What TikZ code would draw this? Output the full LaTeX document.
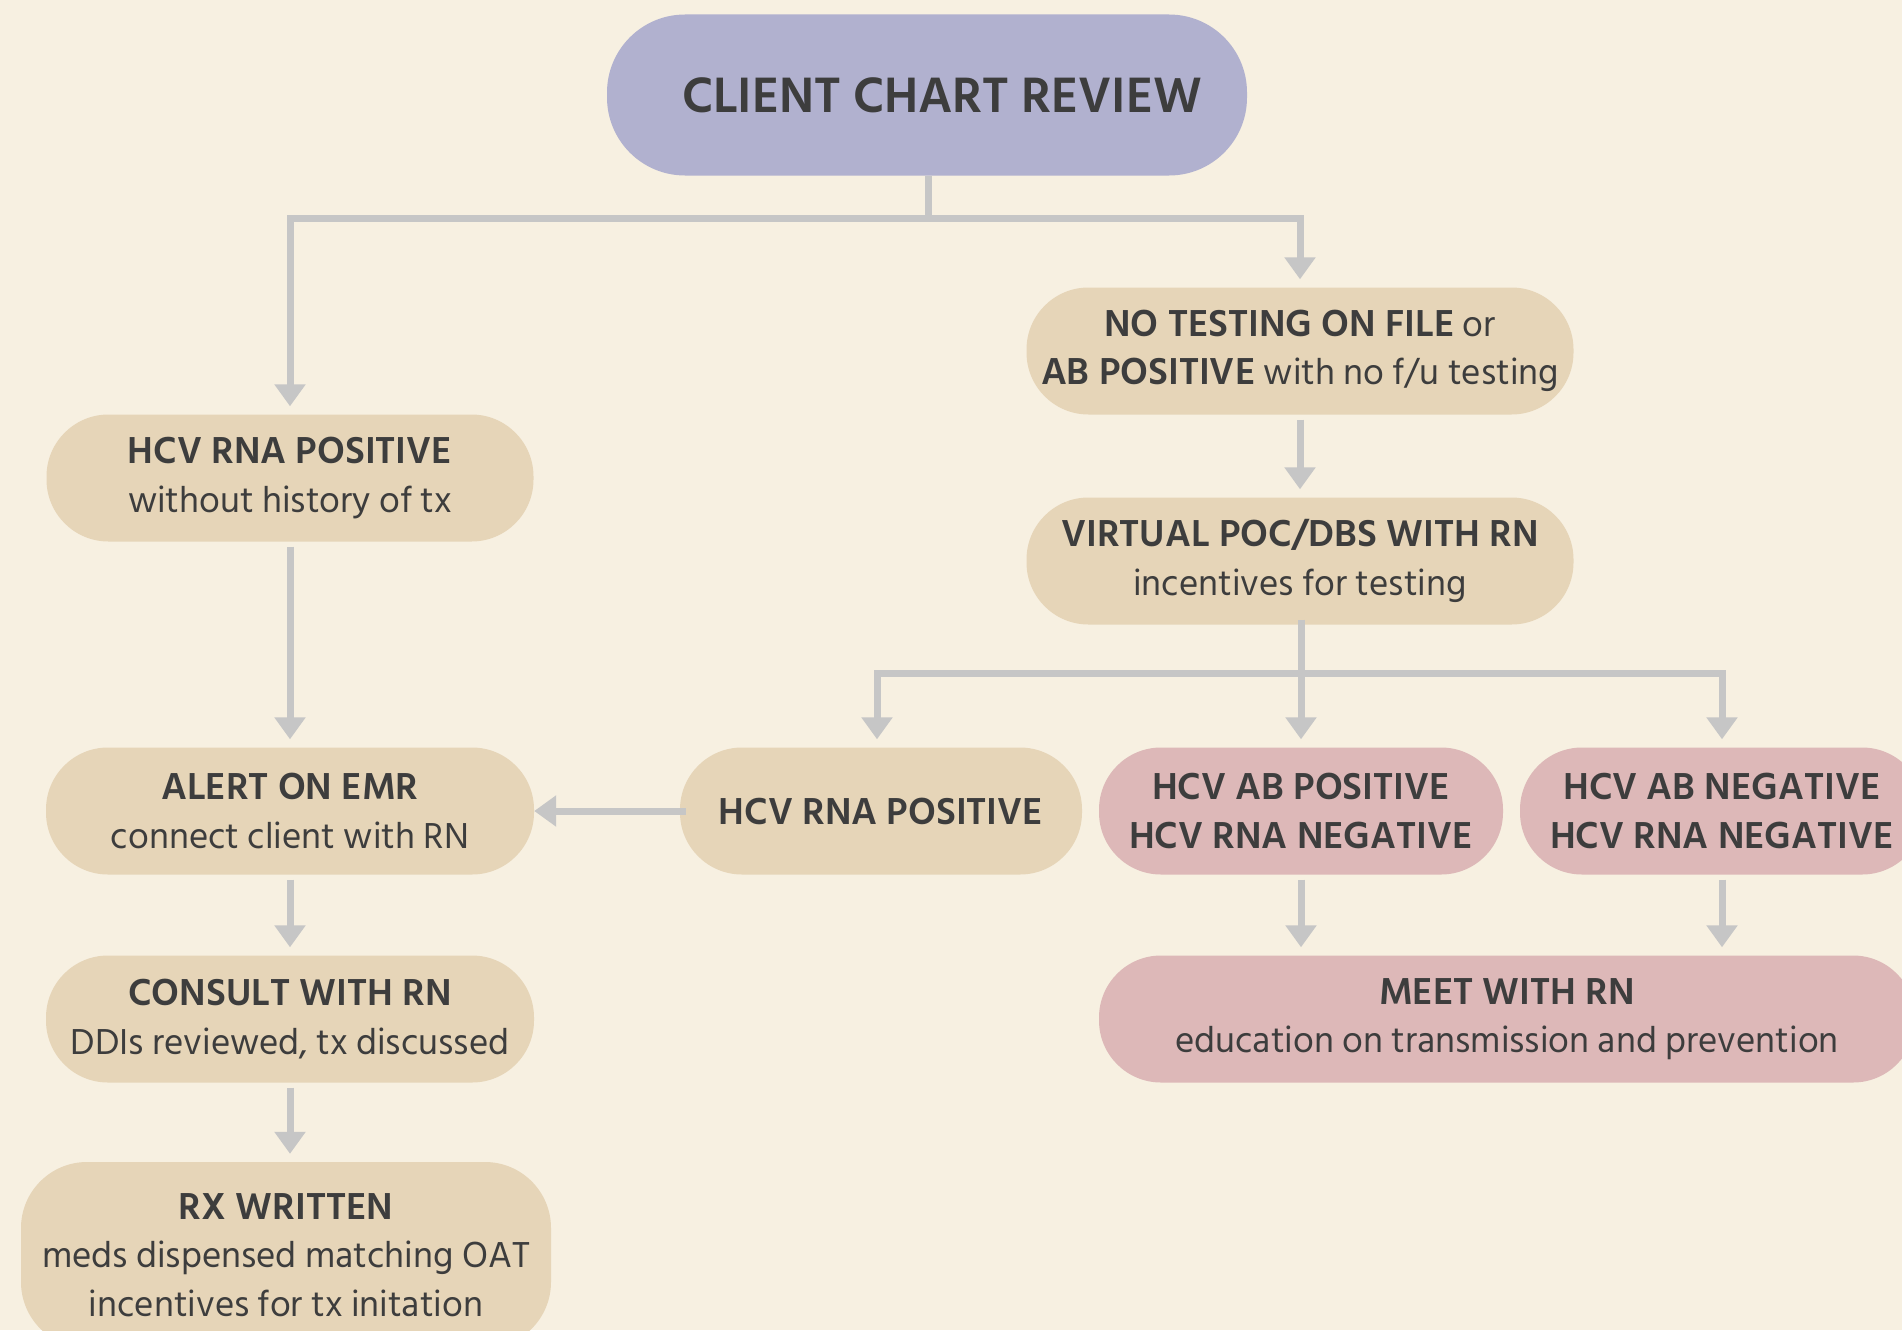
\documentclass[tikz,border=0pt]{standalone}
\usepackage{fontspec}
\setmainfont{Hind Siliguri}
\usetikzlibrary{arrows.meta}
\definecolor{bgc}{HTML}{F7F0E1}
\definecolor{lav}{HTML}{B1B1CF}
\definecolor{beige}{HTML}{E6D5B8}
\definecolor{pinkc}{HTML}{DDB8B8}
\definecolor{arrc}{HTML}{C6C6C6}
\definecolor{txt}{HTML}{3D3D3D}
\newcommand{\Bt}[1]{{\fontsize{38.5}{48.5}\selectfont\bfseries #1}}
\tikzset{
  box/.style={rectangle, rounded corners=62pt, inner sep=0pt, align=center, text=txt,
    minimum height=127pt, font=\fontsize{37}{48.5}\selectfont},
  beigebox/.style={box, fill=beige},
  pinkbox/.style={box, fill=pinkc},
  boldbox/.style={font=\fontsize{38.5}{48.5}\selectfont\bfseries},
  conn/.style={draw=arrc, line width=7pt},
  arr/.style={conn, -{Triangle[width=30pt,length=22pt]}, shorten <=5pt, shorten >=8pt},
}
\begin{document}
\begin{tikzpicture}[x=1pt,y=-1pt]
\clip (0,0) rectangle (1902,1330);
\fill[bgc] (0,0) rectangle (1902,1330);

\node[box, fill=lav, minimum width=640pt, minimum height=161pt, rounded corners=78pt,
  font=\fontsize{51}{60}\selectfont\bfseries] (top) at (927,95) {\hspace*{30pt}CLIENT CHART REVIEW};

\node[beigebox, minimum width=487pt] (hcv1) at (290,478) {\Bt{HCV RNA POSITIVE}\\without history of tx};
\node[beigebox, minimum width=488pt] (alert) at (290,811) {\Bt{ALERT ON EMR}\\connect client with RN};
\node[beigebox, minimum width=488pt] (consult) at (290,1019) {\Bt{CONSULT WITH RN}\\DDIs reviewed, tx discussed};
\node[beigebox, minimum width=530pt, minimum height=186pt, rounded corners=66pt] (rx) at (286,1255) {\Bt{RX WRITTEN}\\meds dispensed matching OAT\\incentives for tx initation};

\node[beigebox, minimum width=547pt] (notest) at (1300,351) {\Bt{NO TESTING ON FILE} or\\\Bt{AB POSITIVE} with no f/u testing};
\node[beigebox, minimum width=547pt] (virt) at (1300,561) {\Bt{VIRTUAL POC/DBS WITH RN}\\incentives for testing};

\node[beigebox, boldbox, minimum width=402pt] (rnapos) at (881,811) {HCV RNA POSITIVE};
\node[pinkbox, boldbox, minimum width=404pt] (abpos) at (1301,811) {HCV AB POSITIVE\\HCV RNA NEGATIVE};
\node[pinkbox, boldbox, minimum width=404pt] (abneg) at (1722,811) {HCV AB NEGATIVE\\HCV RNA NEGATIVE};
\node[pinkbox, minimum width=816pt] (meet) at (1507,1019) {\Bt{MEET WITH RN}\\education on transmission and prevention};

\coordinate (j1) at (928,218);
\coordinate (j2) at (1301,673);

\draw[arr, shorten <=0pt] (top.south -| j1) -- (j1) -| (hcv1.north);
\draw[arr, shorten <=0pt] (j1) -| (notest.north);

\draw[arr] (hcv1.south) -- (alert.north);
\draw[arr] (alert.south) -- (consult.north);
\draw[arr] (consult.south) -- (consult.south |- rx.north);
\draw[arr] (notest.south) -- (virt.north);

\draw[conn] ([yshift=5pt]virt.south -| j2) -- (j2);
\draw[arr, shorten <=0pt] (j2) -| ([xshift=-4pt]rnapos.north);
\draw[arr, shorten <=0pt] (j2) -| (abneg.north);
\draw[arr, shorten <=0pt] (j2) -- (abpos.north);

\draw[arr, shorten <=-6pt, shorten >=0pt] (rnapos.west) -- (alert.east);
\draw[arr] (abpos.south) -- (abpos.south |- meet.north);
\draw[arr] (abneg.south) -- (abneg.south |- meet.north);
\end{tikzpicture}
\end{document}
